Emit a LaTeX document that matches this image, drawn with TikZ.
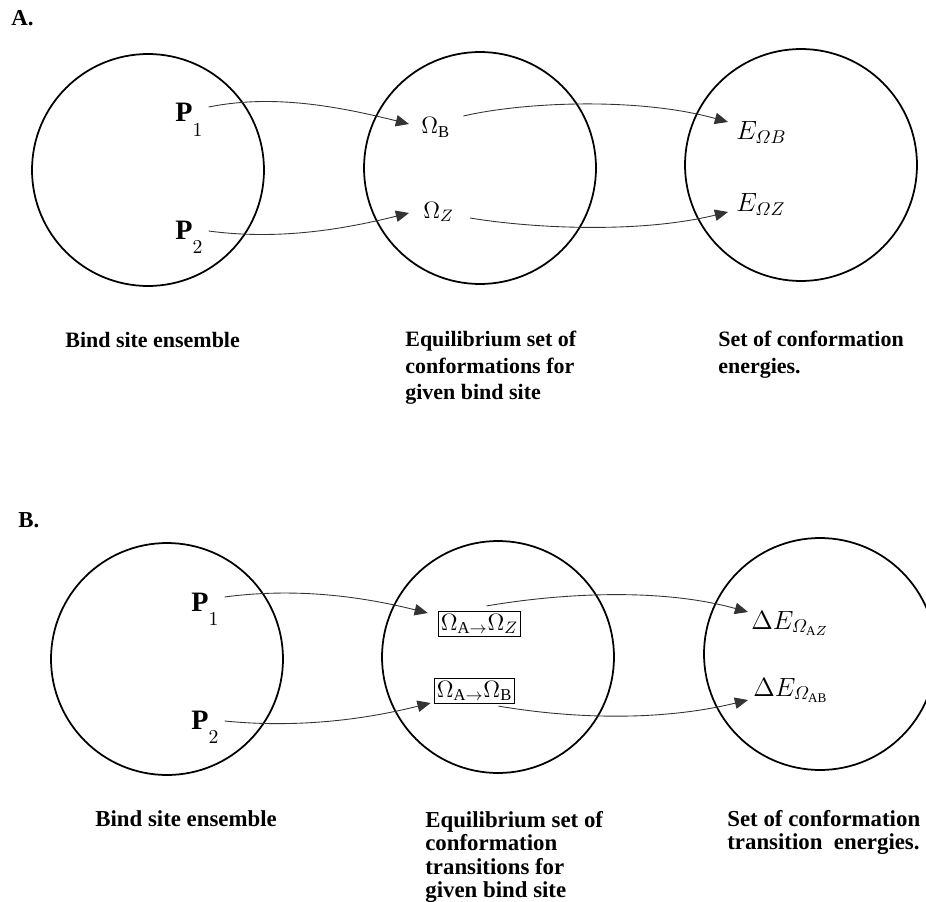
\RequirePackage{fix-cm}
\documentclass[tikz,border=0pt]{standalone}
\usepackage{amsmath}
\usepackage{fontspec}
\setmainfont{Liberation Serif}
\usetikzlibrary{arrows.meta}
\newcommand{\bP}[1]{\mathbf{P}_{\raisebox{-6pt}{$\scriptstyle #1$}}}

\begin{document}
\begin{tikzpicture}[x=0.02cm,y=-0.02cm,>={Triangle[length=7.5pt,width=6.5pt]}]
  \tikzset{
    setc/.style={draw,circle,line width=1pt,minimum size=4.64cm,inner sep=0pt},
    lab/.style={anchor=base west,inner sep=0pt},
    captxt/.style={anchor=north west,inner sep=0pt,align=left,font=\bfseries\fontsize{12.5}{15}\selectfont},
    captxtb/.style={captxt,font=\bfseries\fontsize{13}{13.3}\selectfont},
    conn/.style={->,line width=0.5pt,black!80},
    tbox/.style={draw,line width=0.6pt,inner sep=1.5pt}
  }
  \clip (0,0) rectangle (926,902);
  % panel A
  \node[anchor=base west,inner sep=0pt,font=\bfseries\fontsize{13}{15}\selectfont] (la) at (11,26) {A.};
  \node[setc] (a1) at (148,170) {};
  \node[setc] (a2) at (480,168) {};
  \node[setc] (a3) at (801,165) {};
  \node[lab,font=\fontsize{16}{18}\selectfont] (p1) at (175,122) {$\bP{1}$};
  \node[lab,font=\fontsize{16}{18}\selectfont] (p2) at (175,239) {$\bP{2}$};
  \node[lab,font=\fontsize{13.5}{15}\selectfont] (ob) at (421,134) {$\Omega_{\mathrm{B}}$};
  \node[lab,font=\fontsize{13.5}{15}\selectfont] (oz) at (423,218) {$\Omega_Z$};
  \node[lab,font=\fontsize{15}{17}\selectfont] (eb) at (736,140) {$E_{\varOmega B}$};
  \node[lab,font=\fontsize{15}{17}\selectfont] (ez) at (736,212) {$E_{\varOmega Z}$};
  \draw[conn] ([shift={(5,-15)}]p1.base east) .. controls +(60,-12) and +(-80,-20) .. ([shift={(-12,-10)}]ob.base west);
  \draw[conn] ([shift={(5,-8)}]p2.base east) .. controls +(60,8) and +(-80,20) .. ([shift={(-14,-5)}]oz.base west);
  \draw[conn] ([shift={(13,-18)}]ob.base east) .. controls +(60,-14) and +(-90,-25) .. ([shift={(-8,-18)}]eb.base west);
  \draw[conn] ([shift={(16,0)}]oz.base east) .. controls +(60,10) and +(-90,22) .. ([shift={(-8,0)}]ez.base west);
  \node[captxt] (ta1) at (65,332) {Bind site ensemble};
  \node[captxt] (ta2) at (405,331) {Equilibrium set of\\conformations for\\given bind site};
  \node[captxt] (ta3) at (718,331) {Set of conformation\\energies.};
  % panel B
  \node[anchor=base west,inner sep=0pt,font=\bfseries\fontsize{13}{15}\selectfont] (lb) at (18,527) {B.};
  \node[setc] (b1) at (167,659) {};
  \node[setc] (b2) at (498,657) {};
  \node[setc] (b3) at (820,654) {};
  \node[lab,font=\fontsize{16}{18}\selectfont] (q1) at (191,611) {$\bP{1}$};
  \node[lab,font=\fontsize{16}{18}\selectfont] (q2) at (191,729) {$\bP{2}$};
  \node[tbox,font=\fontsize{13.5}{15}\selectfont] (taz) at (479.5,624) {$\Omega_{\mathrm{A}\rightarrow}\Omega_Z$};
  \node[tbox,font=\fontsize{13.5}{15}\selectfont] (tab) at (474.5,691) {$\Omega_{\mathrm{A}\rightarrow}\Omega_{\mathrm{B}}$};
  \node[lab,font=\fontsize{15}{17}\selectfont] (daz) at (751,629) {$\Delta E_{\varOmega_{\mathrm{A}Z}}$};
  \node[lab,font=\fontsize{15}{17}\selectfont] (dab) at (753,696) {$\Delta E_{\varOmega_{\mathrm{AB}}}$};
  \draw[conn] ([shift={(5,-14)}]q1.base east) .. controls +(60,-8) and +(-80,-20) .. ([shift={(-10,-11)}]taz.west);
  \draw[conn] ([shift={(5,-8)}]q2.base east) .. controls +(60,6) and +(-80,20) .. ([shift={(-3,12)}]tab.west);
  \draw[conn] ([shift={(7,-5)}]taz.north) .. controls +(70,-12) and +(-90,-25) .. ([shift={(-3,-17)}]daz.base west);
  \draw[conn] ([shift={(24,2)}]tab.south) .. controls +(70,12) and +(-90,22) .. ([shift={(-5,4)}]dab.base west);
  \node[captxtb] (tb1) at (95,810) {Bind site ensemble};
  \node[captxtb] (tb2) at (425,811) {Equilibrium set of\\conformation\\transitions for\\given bind site};
  \node[captxtb] (tb3) at (727,810) {Set of conformation\\transition\ \ energies.};
\end{tikzpicture}
\end{document}
